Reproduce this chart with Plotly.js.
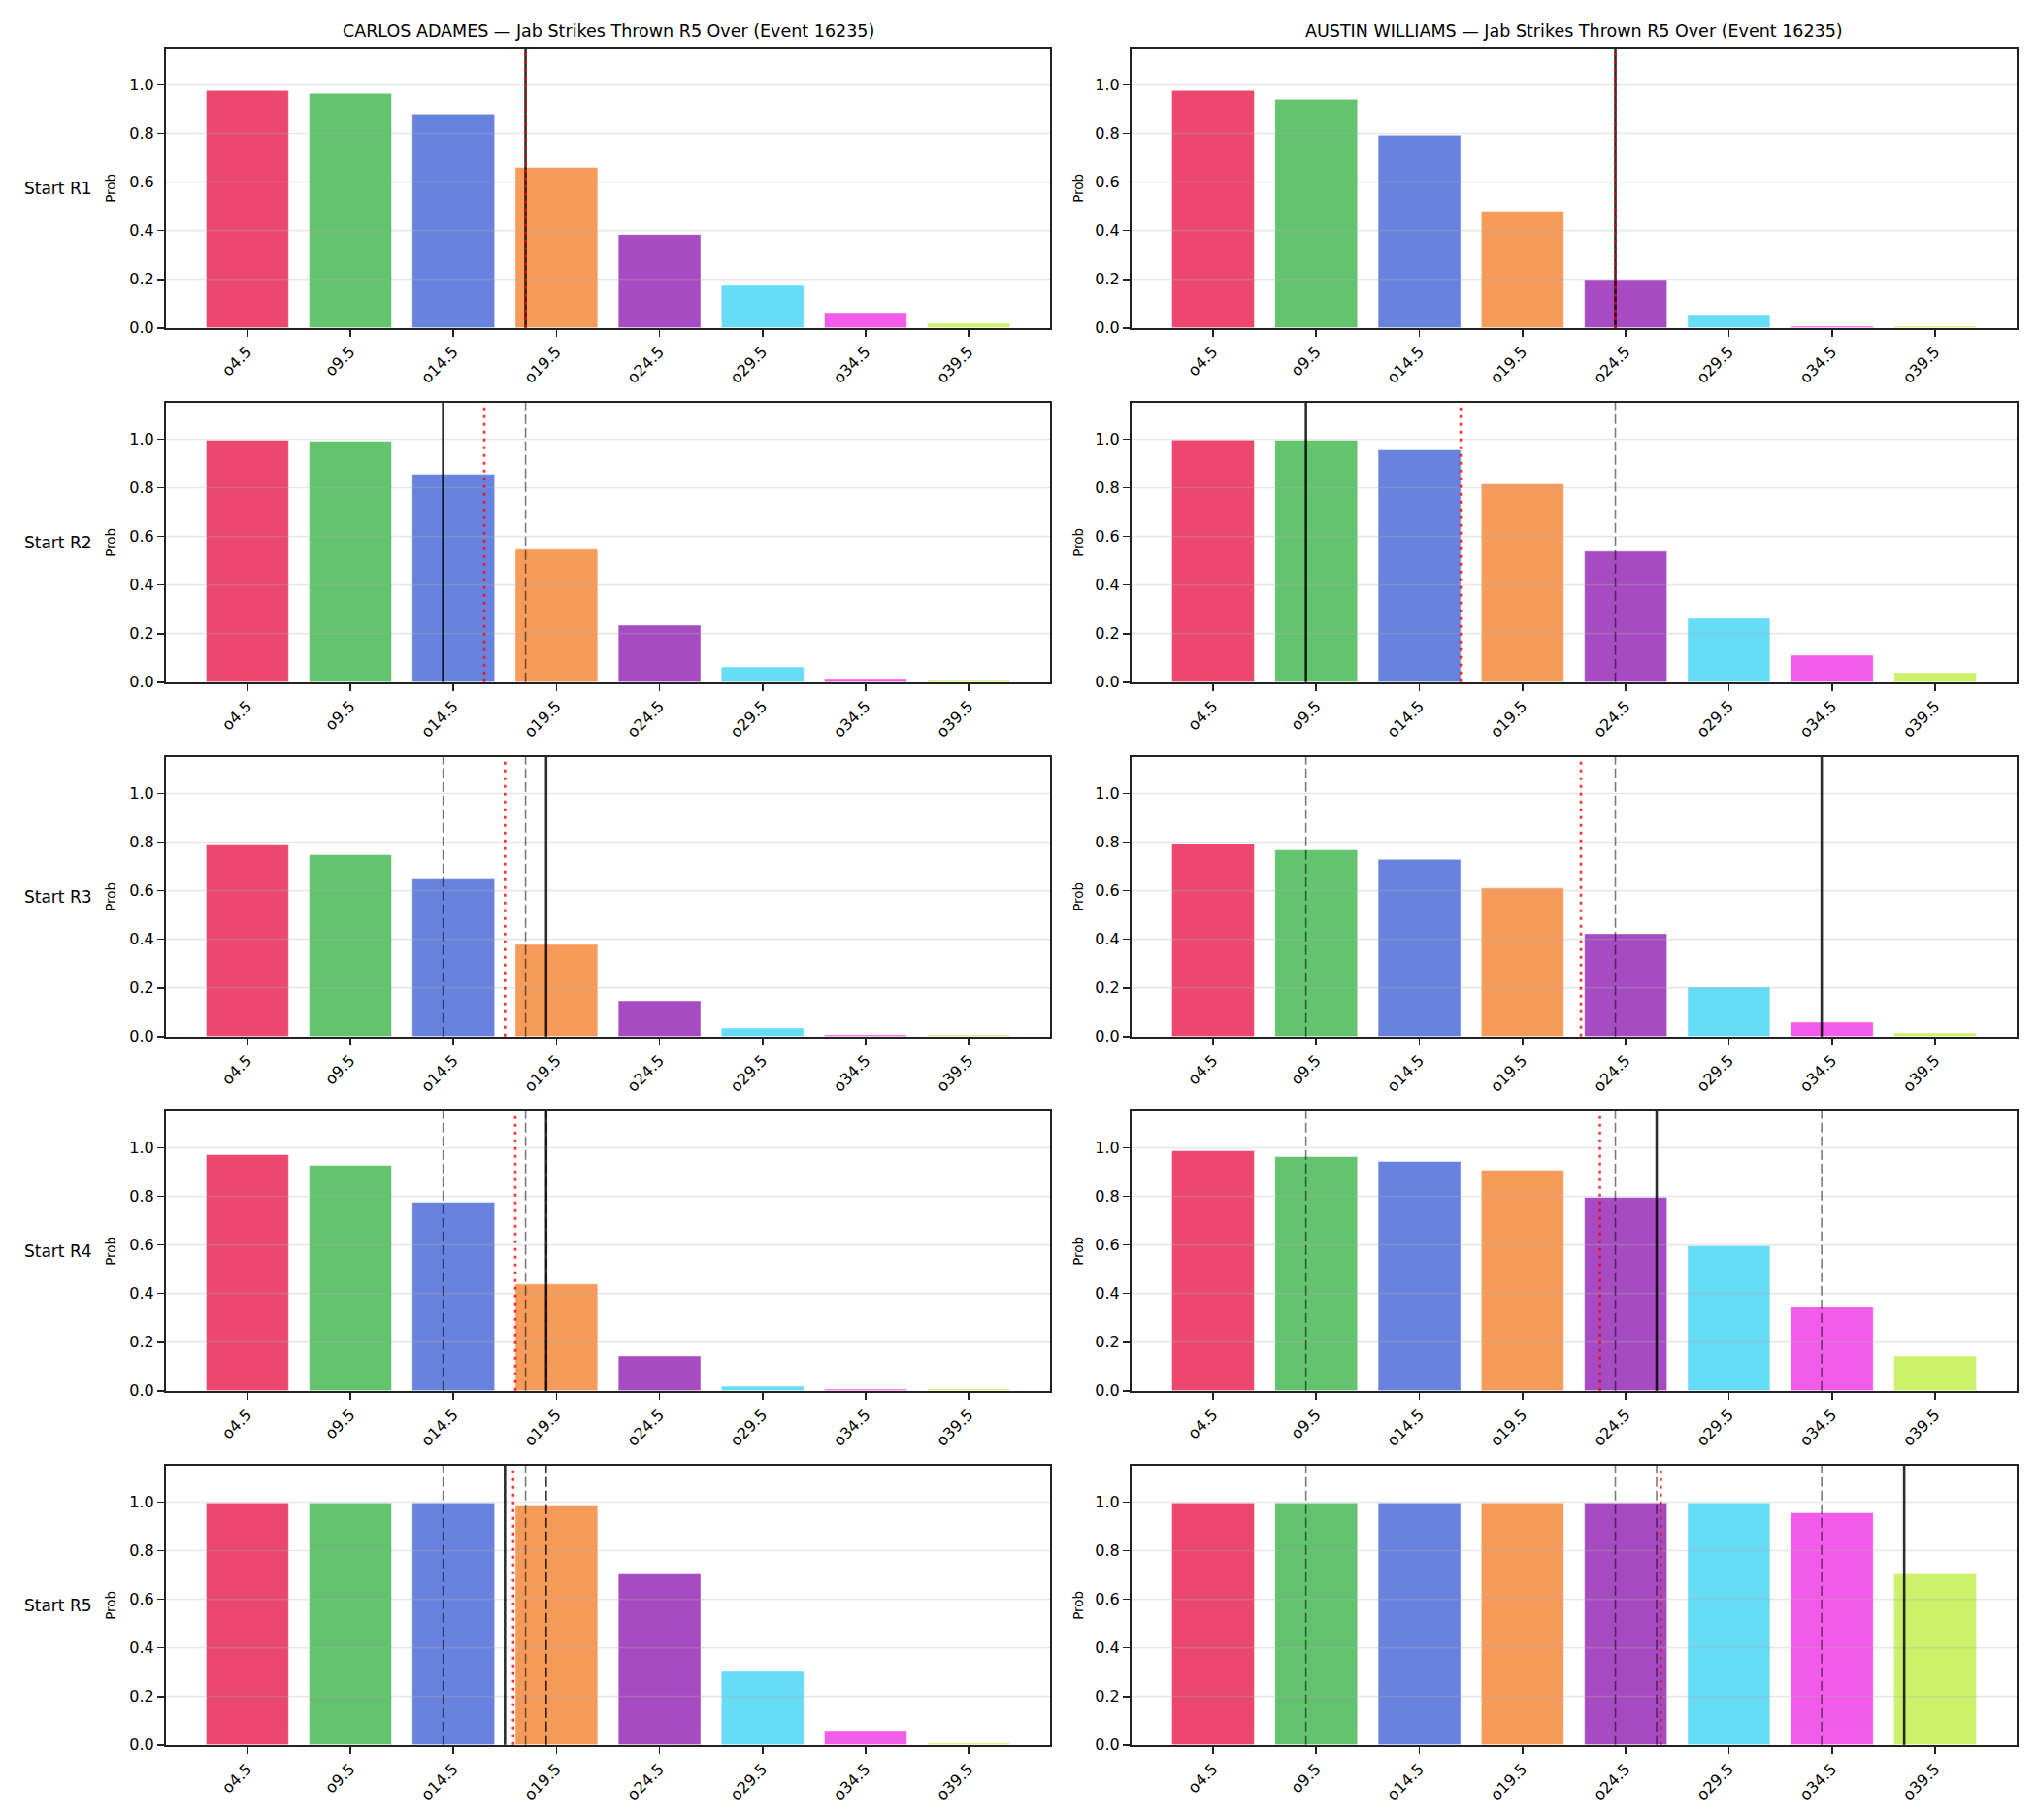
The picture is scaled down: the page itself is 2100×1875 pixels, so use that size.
<!DOCTYPE html>
<html>
<head>
<meta charset="utf-8">
<script src="https://cdn.plot.ly/plotly-3.0.1.min.js"></script>
<style>
  html, body { margin: 0; padding: 0; background: #ffffff; }
  #chart { width: 2100px; height: 1875px; }
</style>
</head>
<body>
<div id="chart"></div>
<script>
// Over-lines (strike counts) and their tick labels
const thresholds = [4.5, 9.5, 14.5, 19.5, 24.5, 29.5, 34.5, 39.5];
const tickLabels = ['o4.5', 'o9.5', 'o14.5', 'o19.5', 'o24.5', 'o29.5', 'o34.5', 'o39.5'];
const barColors = ['#e6194B', '#3cb44b', '#4363d8', '#f58231', '#911eb4', '#42d4f4', '#f032e6', '#bfef45'];
const roundLabels = ['Start R1', 'Start R2', 'Start R3', 'Start R4', 'Start R5'];

const fighters = ['CARLOS ADAMES', 'AUSTIN WILLIAMS'];
const marketTitle = 'Jab Strikes Thrown R5 Over (Event 16235)';

// P(over) for each line, one row per starting round
const adamesProb = [
  [0.977, 0.965, 0.881, 0.660, 0.384, 0.175, 0.063, 0.019],
  [0.996, 0.992, 0.856, 0.547, 0.235, 0.063, 0.011, 0.007],
  [0.788, 0.748, 0.648, 0.379, 0.147, 0.035, 0.007, 0.007],
  [0.972, 0.928, 0.776, 0.439, 0.143, 0.019, 0.007, 0.007],
  [0.997, 0.997, 0.997, 0.988, 0.704, 0.303, 0.059, 0.007]
];
const williamsProb = [
  [0.977, 0.941, 0.793, 0.480, 0.199, 0.051, 0.007, 0.007],
  [0.997, 0.996, 0.956, 0.816, 0.539, 0.263, 0.111, 0.039],
  [0.792, 0.768, 0.729, 0.611, 0.423, 0.203, 0.059, 0.015],
  [0.988, 0.964, 0.944, 0.908, 0.796, 0.596, 0.344, 0.143],
  [0.997, 0.997, 0.997, 0.997, 0.997, 0.997, 0.956, 0.704]
];

// Projected count for each starting round (solid line) and running average (red dotted)
const adamesMarks = [18, 14, 19, 19, 17];
const adamesAvg = [18, 16, 17, 17.5, 17.4];
const williamsMarks = [24, 9, 34, 26, 38];
const williamsAvg = [24, 16.5, 22.33, 23.25, 26.2];

const probs = [adamesProb, williamsProb];
const marks = [adamesMarks, williamsMarks];
const avgs = [adamesAvg, williamsAvg];

// Panel geometry (paper fractions)
const W = 2100, H = 1875;
const colX = [[171 / W, 1082 / W], [1166 / W, 2078 / W]];
const panelTop = [50, 415, 780, 1145, 1510];
const panelH = 287.7;
const FONT = 'DejaVu Sans, Liberation Sans, sans-serif';

const data = [];
const layout = {
  width: W, height: H,
  margin: { l: 0, r: 0, t: 0, b: 0 },
  paper_bgcolor: '#ffffff',
  plot_bgcolor: '#ffffff',
  showlegend: false,
  bargap: 0,
  font: { family: FONT, color: '#000000', size: 16 },
  shapes: [],
  annotations: []
};

for (let r = 0; r < 5; r++) {
  const yBot = 1 - (panelTop[r] + panelH) / H;
  const yTop = 1 - panelTop[r] / H;
  for (let c = 0; c < 2; c++) {
    const k = r * 2 + c + 1;
    const xs = k === 1 ? 'x' : 'x' + k;
    const ys = k === 1 ? 'y' : 'y' + k;
    const xName = k === 1 ? 'xaxis' : 'xaxis' + k;
    const yName = k === 1 ? 'yaxis' : 'yaxis' + k;

    data.push({
      type: 'bar',
      x: thresholds,
      y: probs[c][r],
      width: 4,
      xaxis: xs, yaxis: ys,
      marker: {
        color: barColors,
        opacity: 0.8,
        line: { color: '#ffffff', width: 0.5 }
      },
      hoverinfo: 'x+y'
    });

    layout[xName] = {
      domain: colX[c],
      anchor: ys,
      range: [0.55, 43.45],
      tickmode: 'array',
      tickvals: thresholds,
      ticktext: tickLabels,
      tickangle: -45,
      ticks: 'outside', ticklen: 7, tickwidth: 1.7, tickcolor: '#222222',
      showline: true, linecolor: '#222222', linewidth: 2, mirror: true,
      showgrid: false, zeroline: false,
      tickfont: { family: FONT, size: 16, color: '#000000' }
    };
    layout[yName] = {
      domain: [yBot, yTop],
      anchor: xs,
      range: [0, 1.15],
      tickmode: 'array',
      tickvals: [0, 0.2, 0.4, 0.6, 0.8, 1.0],
      tickformat: '.1f',
      ticks: 'outside', ticklen: 7, tickwidth: 1.7, tickcolor: '#222222',
      showline: true, linecolor: '#222222', linewidth: 2, mirror: true,
      showgrid: false, zeroline: false,
      tickfont: { family: FONT, size: 16, color: '#000000' }
    };

    // horizontal grid lines, drawn over the bars
    [0.2, 0.4, 0.6, 0.8, 1.0].forEach(v => {
      layout.shapes.push({
        type: 'line', layer: 'above',
        xref: xs + ' domain', yref: ys,
        x0: 0, x1: 1, y0: v, y1: v,
        line: { color: 'rgba(176,176,176,0.3)', width: 1.6 }
      });
    });

    // earlier rounds' projections (dashed)
    for (let p = 0; p < r; p++) {
      layout.shapes.push({
        type: 'line', layer: 'above',
        xref: xs, yref: ys + ' domain',
        x0: marks[c][p], x1: marks[c][p], y0: 0, y1: 1,
        line: { color: 'rgba(0,0,0,0.52)', width: 1.6, dash: '10px,4px' }
      });
    }
    // this round's projection (solid)
    layout.shapes.push({
      type: 'line', layer: 'above',
      xref: xs, yref: ys + ' domain',
      x0: marks[c][r], x1: marks[c][r], y0: 0, y1: 1,
      line: { color: 'rgba(0,0,0,0.82)', width: 2.6 }
    });
    // running average (red dotted)
    layout.shapes.push({
      type: 'line', layer: 'above',
      xref: xs, yref: ys + ' domain',
      x0: avgs[c][r], x1: avgs[c][r], y0: 0, y1: 1,
      line: { color: 'rgba(255,0,0,0.8)', width: 2.6, dash: '3px,5px' }
    });

    // y-axis label
    const probX = c === 0 ? 114 : 1111;
    layout.annotations.push({
      xref: 'paper', yref: 'paper',
      x: probX / W, y: (yBot + yTop) / 2,
      text: 'Prob', textangle: -90, showarrow: false,
      xanchor: 'center', yanchor: 'middle',
      font: { family: FONT, size: 13.5, color: '#000000' }
    });

    // fighter title on the top row
    if (r === 0) {
      layout.annotations.push({
        xref: 'paper', yref: 'paper',
        x: (colX[c][0] + colX[c][1]) / 2, y: 1 - 32 / H,
        text: fighters[c] + ' \u2014 ' + marketTitle,
        showarrow: false, xanchor: 'center', yanchor: 'middle',
        font: { family: FONT, size: 17.5, color: '#000000' }
      });
    }
  }

  // row label
  layout.annotations.push({
    xref: 'paper', yref: 'paper',
    x: 23 / W, y: (yBot + yTop) / 2,
    text: roundLabels[r], showarrow: false,
    xanchor: 'left', yanchor: 'middle',
    font: { family: FONT, size: 17, color: '#000000' }
  });
}

Plotly.newPlot('chart', data, layout, { displayModeBar: false, staticPlot: true });
</script>
</body>
</html>
